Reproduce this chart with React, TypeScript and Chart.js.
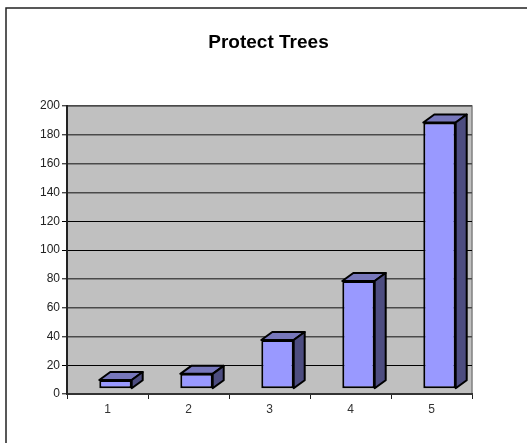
import React, { useEffect, useRef } from "react";
import { Chart, registerables } from "chart.js";

Chart.register(...registerables);

const chartTitle = "Protect Trees";
const categories = ["1", "2", "3", "4", "5"];
const barTops = [9.7, 14, 37.5, 78.5, 188.5];
const barFloor = 4;
const yMax = 200;
const yStep = 20;
const darkGridValues = [20, 100, 120];

const FONT = "'Liberation Sans', Arial, sans-serif";
const BAR_SHIFT = 8;

const scenePlugin = {
  id: "scene",
  beforeDraw(chart: any) {
    const { ctx, chartArea: a } = chart;
    ctx.save();
    ctx.fillStyle = "#ffffff";
    ctx.fillRect(0, 0, chart.width, chart.height);
    // outer frame (top and left only are within the picture)
    ctx.strokeStyle = "#222222";
    ctx.lineWidth = 1.5;
    ctx.beginPath();
    ctx.moveTo(chart.width, 8);
    ctx.lineTo(6, 8);
    ctx.lineTo(6, chart.height);
    ctx.stroke();
    // plot wall
    ctx.fillStyle = "#c0c0c0";
    ctx.fillRect(a.left, a.top, a.width, a.height);
    ctx.strokeStyle = "#808080";
    ctx.lineWidth = 1.5;
    ctx.beginPath();
    ctx.moveTo(a.left, a.top);
    ctx.lineTo(a.right, a.top);
    ctx.lineTo(a.right, a.bottom);
    ctx.stroke();
    // title
    ctx.fillStyle = "#000000";
    ctx.font = `bold 19px ${FONT}`;
    ctx.textAlign = "center";
    ctx.textBaseline = "middle";
    ctx.fillText(chartTitle, 268.5, 42.5);
    ctx.restore();
  },
  beforeDatasetsDraw(chart: any) {
    chart.ctx.save();
    chart.ctx.translate(BAR_SHIFT, 0);
  },
  afterDatasetsDraw(chart: any) {
    const { ctx } = chart;
    const dx = 11;
    const dy = 8;
    ctx.strokeStyle = "#000000";
    ctx.lineWidth = 2;
    ctx.lineJoin = "round";
    chart.getDatasetMeta(0).data.forEach((bar: any) => {
      const left = bar.x - bar.width / 2;
      const right = bar.x + bar.width / 2;
      const top = bar.y;
      const bottom = bar.base;
      ctx.fillStyle = "#7777bb";
      ctx.beginPath();
      ctx.moveTo(left, top);
      ctx.lineTo(left + dx, top - dy);
      ctx.lineTo(right + dx, top - dy);
      ctx.lineTo(right, top);
      ctx.closePath();
      ctx.fill();
      ctx.stroke();
      ctx.fillStyle = "#4d4d80";
      ctx.beginPath();
      ctx.moveTo(right, top);
      ctx.lineTo(right + dx, top - dy);
      ctx.lineTo(right + dx, bottom - dy);
      ctx.lineTo(right, bottom);
      ctx.closePath();
      ctx.fill();
      ctx.stroke();
    });
    ctx.restore();
  },
};

export default function App() {
  const ref = useRef<HTMLCanvasElement | null>(null);

  useEffect(() => {
    const chart = new Chart(ref.current as HTMLCanvasElement, {
      type: "bar",
      data: {
        labels: categories,
        datasets: [
          {
            data: barTops.map((v) => [barFloor, v]) as any,
            backgroundColor: "#9999ff",
            borderColor: "#000000",
            borderWidth: 2,
            borderSkipped: false,
            categoryPercentage: 1,
            barPercentage: 0.4,
          },
        ],
      },
      plugins: [scenePlugin],
      options: {
        responsive: false,
        animation: false,
        layout: { padding: { top: 106, right: 55, left: 0, bottom: 0 } },
        plugins: { legend: { display: false }, title: { display: false }, tooltip: { enabled: false } },
        scales: {
          x: {
            afterFit(axis: any) {
              axis.height = 49;
            },
            grid: {
              offset: true,
              drawOnChartArea: false,
              drawTicks: true,
              tickLength: 5,
              color: "#222222",
            },
            border: { color: "#333333", width: 2 },
            ticks: { color: "#333333", font: { family: FONT, size: 12 }, padding: 3, maxRotation: 0 },
          },
          y: {
            min: 0,
            max: yMax,
            afterFit(axis: any) {
              axis.width = 67;
            },
            grid: {
              color: (c: any) => (darkGridValues.includes(c.tick?.value) ? "#000000" : "#4a4a4a"),
              lineWidth: (c: any) => (darkGridValues.includes(c.tick?.value) ? 1 : 1.4),
              tickLength: 5,
            },
            border: { color: "#222222", width: 2 },
            ticks: { stepSize: yStep, color: "#222222", font: { family: FONT, size: 12 }, padding: 2 },
          },
        },
      },
    });
    return () => chart.destroy();
  }, []);

  return (
    <div style={{ position: "fixed", inset: 0, overflow: "hidden", background: "#fff" }}>
      <canvas ref={ref} width={527} height={443} style={{ display: "block" }} />
    </div>
  );
}
